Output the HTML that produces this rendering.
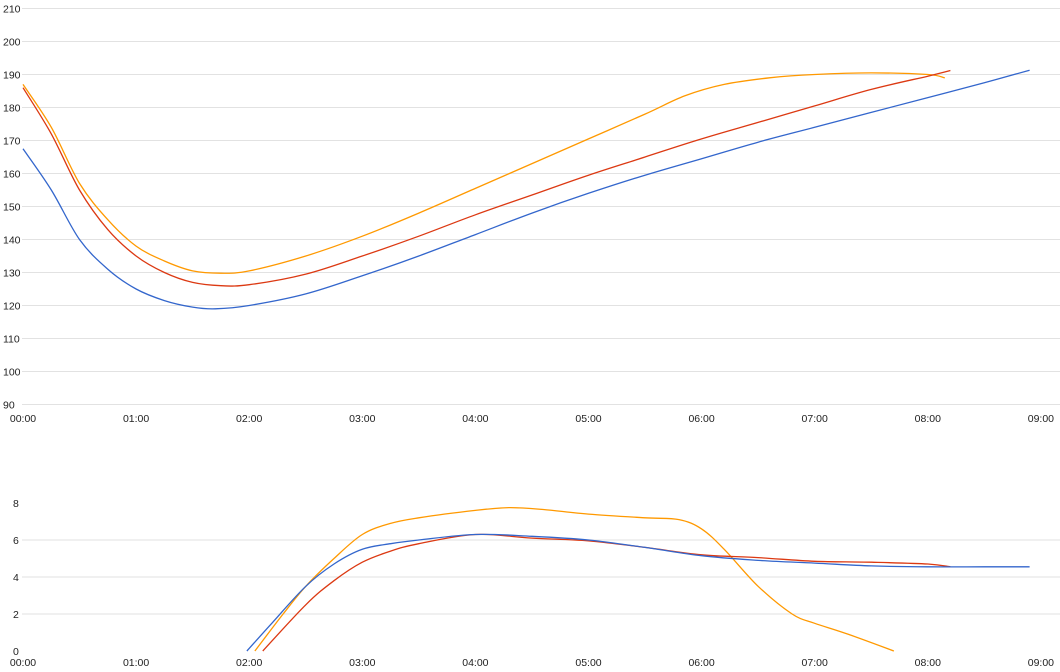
<!DOCTYPE html>
<html><head><meta charset="utf-8"><style>
body{margin:0;background:#fff;}
svg{display:block;font-family:"Liberation Sans",Arial,sans-serif;font-size:10.5px;}
</style></head><body>
<svg id="c" width="1060" height="672"></svg>
<script>
const topTicks=[90,100,110,120,130,140,150,160,170,180,190,200,210];
const botTicks=[0,2,4,6,8];
const xTickLabels=["00:00","01:00","02:00","03:00","04:00","05:00","06:00","07:00","08:00","09:00"];
const blueTopT=[0,0.25,0.5,0.75,1,1.25,1.5,1.7,2,2.5,3,3.5,4,4.5,5,5.5,6,6.5,7,7.5,8,8.5,8.9];
const blueTopV=[167.5,155,140,131,125,121.5,119.5,119,120,123.5,129,135,141.5,148,154,159.5,164.5,169.5,174,178.5,183,187.5,191.3];
const redTopT=[0,0.25,0.5,0.75,1,1.25,1.5,1.75,2,2.5,3,3.5,4,4.5,5,5.5,6,6.5,7,7.5,8,8.2];
const redTopV=[186,172,155,143,135,130,127,126,126.3,129.5,135,141,147.5,153.5,159.5,165,170.5,175.5,180.5,185.5,189.5,191.2];
const orangeTopT=[0,0.25,0.5,0.75,1,1.25,1.5,1.75,2,2.5,3,3.5,4,4.5,5,5.5,5.85,6.2,6.6,7,7.5,8,8.15];
const orangeTopV=[187,174,157,146,138,133.5,130.5,129.8,130.5,135,141,148,155.5,163,170.5,178,183.5,187,189,190,190.5,190,189];
const blueBotT=[1.98,2.2,2.5,2.75,3,3.25,3.5,4,4.5,5,5.5,6,6.5,7,7.5,8,8.5,8.9];
const blueBotV=[0,1.5,3.5,4.7,5.5,5.8,6.0,6.3,6.2,6.0,5.6,5.15,4.9,4.75,4.6,4.55,4.55,4.55];
const redBotT=[2.12,2.5,2.75,3,3.25,3.5,4,4.5,5,5.5,6,6.5,7,7.5,8,8.2];
const redBotV=[0,2.5,3.8,4.8,5.4,5.8,6.3,6.1,5.95,5.6,5.2,5.05,4.85,4.8,4.7,4.55];
const orangeBotT=[2.05,2.3,2.5,2.75,3,3.25,3.5,4,4.3,4.6,5,5.5,5.8,6,6.2,6.5,6.8,7,7.3,7.7];
const orangeBotV=[0,2,3.5,5,6.3,6.9,7.2,7.6,7.75,7.65,7.4,7.2,7.1,6.6,5.5,3.5,2,1.5,0.9,0];

const NS="http://www.w3.org/2000/svg";
const svg=document.getElementById('c');
const x=t=>23+t*113.1;
const yTop=v=>404.5-(v-90)*3.3;
const yBot=v=>651-v*18.5;
function mk(tag,attrs,parent){const e=document.createElementNS(NS,tag);for(const k in attrs)e.setAttribute(k,attrs[k]);(parent||svg).appendChild(e);return e;}

topTicks.forEach(v=>{
  const g=mk('line',{x1:22,x2:1060,y1:yTop(v),y2:yTop(v),stroke:'#e2e2e2','stroke-width':1});
  
  
  const t=mk('text',{x:3,y:yTop(v)+4,fill:'#222'});t.textContent=v;
  
  
});
botTicks.forEach(v=>{
  if(v>0&&v<8){const g=mk('line',{x1:22,x2:1060,y1:yBot(v),y2:yBot(v),stroke:'#e2e2e2','stroke-width':1});
  
  }
  const t=mk('text',{x:13,y:yBot(v)+4,fill:'#222'});t.textContent=v;
  
  
});
xTickLabels.forEach((l,i)=>{
  const a=mk('text',{x:x(i),y:422,'text-anchor':'middle',fill:'#222'});a.textContent=l;
  
  
  const b=mk('text',{x:x(i),y:666,'text-anchor':'middle',fill:'#222'});b.textContent=l;
  
  
});
function line(T,V,yf,color,name){
  const P=T.map((t,i)=>[x(t),yf(V[i])]);
  let d='M'+P[0][0].toFixed(1)+' '+P[0][1].toFixed(1);
  for(let i=0;i<P.length-1;i++){
    const p0=P[Math.max(0,i-1)],p1=P[i],p2=P[i+1],p3=P[Math.min(P.length-1,i+2)];
    const c1=[p1[0]+(p2[0]-p0[0])/6,p1[1]+(p2[1]-p0[1])/6];
    const c2=[p2[0]-(p3[0]-p1[0])/6,p2[1]-(p3[1]-p1[1])/6];
    d+=' C'+c1.map(n=>n.toFixed(1)).join(' ')+' '+c2.map(n=>n.toFixed(1)).join(' ')+' '+p2[0].toFixed(1)+' '+p2[1].toFixed(1);
  }
  const p=mk('path',{d:d,fill:'none',stroke:color,'stroke-width':1.3,'stroke-linejoin':'round'});
  
  
}
line(orangeTopT,orangeTopV,yTop,'#ff9900','top-orange-line');
line(redTopT,redTopV,yTop,'#dc3912','top-red-line');
line(blueTopT,blueTopV,yTop,'#3366cc','top-blue-line');
line(orangeBotT,orangeBotV,yBot,'#ff9900','bottom-orange-line');
line(redBotT,redBotV,yBot,'#dc3912','bottom-red-line');
line(blueBotT,blueBotV,yBot,'#3366cc','bottom-blue-line');
</script>
</body></html>
